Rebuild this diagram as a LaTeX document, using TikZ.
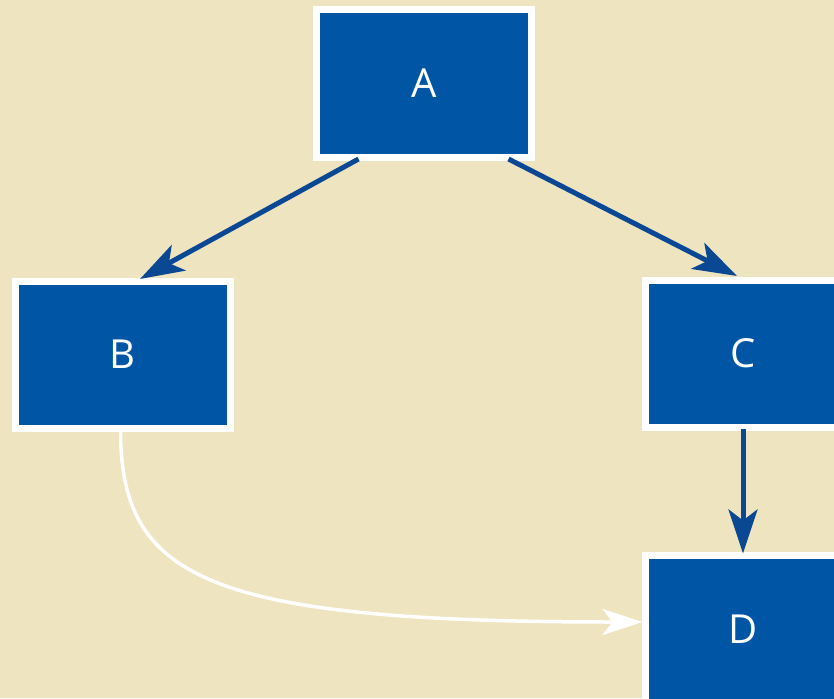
\documentclass[tikz,border=0pt]{standalone}
\usepackage{fontspec}
\setmainfont{Open Sans}
\usetikzlibrary{arrows.meta}
\definecolor{bg}{RGB}{239,228,192}
\definecolor{boxblue}{RGB}{0,85,164}
\definecolor{arrblue}{RGB}{10,72,148}
\tikzset{
  box/.style={draw=white, line width=7pt, fill=boxblue, minimum width=215pt, minimum height=147pt, inner sep=0pt, outer sep=0pt, text=white, font=\fontsize{40}{40}\selectfont},
  narrowbox/.style={box, minimum width=195pt},
  link/.style={draw=arrblue, line width=5pt, -{Stealth[length=44pt,width=29pt,inset=11pt]}},
  wlink/.style={draw=white, line width=3.5pt, -{Stealth[length=40pt,width=26pt,inset=10pt]}}
}
\begin{document}
\begin{tikzpicture}[x=1pt,y=-1pt]
\fill[bg] (0,0) rectangle (834,698);
\useasboundingbox (0,0) rectangle (834,698);
\node[box] (A) at (424,83.5) {A};
\node[box] (B) at (122.5,354.5) {B};
\node[narrowbox] (C) at (743,353.5) {C};
\node[narrowbox] (D) at (743,629) {D};
\draw[link] ([xshift=42pt,yshift=-2pt]A.south west) -- ([xshift=125pt,yshift=2pt]B.north west);
\draw[link] ([xshift=-23pt,yshift=-2pt]A.south east) -- ([xshift=-6pt,yshift=4pt]C.north);
\draw[link] ([yshift=-2pt]C.south) -- ([yshift=2pt]D.north);
\draw[wlink] ([xshift=-2pt,yshift=-1pt]B.south) .. controls +(0,148) and +(-440,0) .. ([xshift=-3pt,yshift=7pt]D.west);
\end{tikzpicture}
\end{document}
